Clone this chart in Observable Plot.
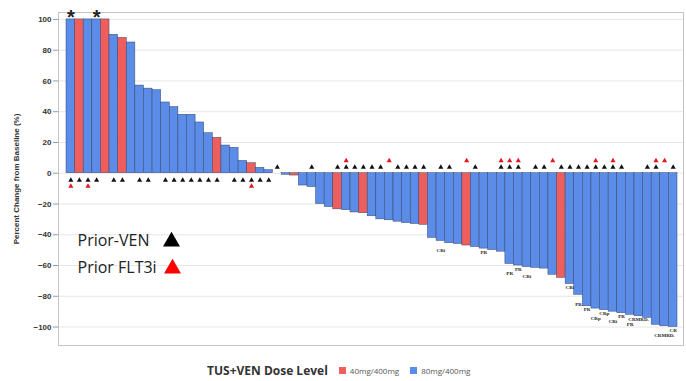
<!DOCTYPE html>
<html><head><meta charset="utf-8">
<script src="https://cdn.jsdelivr.net/npm/d3@7"></script>
<script src="https://cdn.jsdelivr.net/npm/@observablehq/plot@0.6"></script>
<style>
body{margin:0;background:#fff;}
#wrap{position:relative;width:686px;height:381px;overflow:hidden;background:#fff;}
#chart{position:absolute;left:0;top:0;}
#legend{position:absolute;left:207px;top:361px;height:18px;display:flex;align-items:center;font-family:"Open Sans",sans-serif;white-space:nowrap;}
#legend .title{font-weight:bold;font-size:12px;color:#333;}
#legend .sw{width:7px;height:7px;display:inline-block;margin-left:11px;}
#legend .lab{font-size:8px;color:#555;margin-left:4px;}
</style></head><body>
<div id="wrap"><div id="chart"></div>
<div id="legend"><span class="title">TUS+VEN Dose Level</span><span class="sw" style="background:#EE5E5C"></span><span class="lab">40mg/400mg</span><span class="sw" style="background:#5B8DE8"></span><span class="lab">80mg/400mg</span></div>
</div>
<script>
// percent change from baseline per patient (sorted waterfall)
const values = [100,100,100,100,100,90,88,85,57,55,54,46,43,38,38,33,26,23,18,16.5,8,6.5,3.5,2,0,-1,-1.5,-8,-9,-20,-22,-23.5,-24,-25.5,-26,-28,-30,-30.6,-31.5,-32.4,-33,-33.5,-42,-44,-45.5,-46,-47,-48,-49,-50,-51,-59,-60,-61,-61.5,-62,-66,-68,-72,-79,-86.5,-88,-89,-90,-91,-92,-93,-94,-98.5,-99.5,-100];
// dose level per bar: "40" = 40mg/400mg, "80" = 80mg/400mg
const dose = ["80","40","80","80","40","80","40","80","80","80","80","80","80","80","80","80","80","40","80","80","80","40","80","80","80","80","40","80","80","80","80","40","80","80","40","80","80","80","80","80","80","40","80","80","80","80","40","80","80","80","80","80","80","80","80","80","80","40","80","80","80","80","80","80","80","80","80","80","80","80","80"];
// patients with prior venetoclax / prior FLT3 inhibitor (bar indices)
const priorVEN = [0,1,2,3,5,6,8,9,11,12,13,14,15,16,17,19,20,21,22,23,24,28,31,32,33,34,35,36,38,39,40,41,43,44,47,50,51,52,54,55,57,58,59,60,61,62,63,64,67,68,70];
const priorFLT3i = [0,2,21,32,37,46,50,51,52,56,61,63,68,69];
// best response labels
const responseIdx = [43,48,51,52,53,58,59,60,61,62,63,64,65,66,69,70];
const responseLab = ["CRi","PR","PR","PR","CRi","CRi","PR","PR","CRp","CRp","CRi","PR","PR","CRMRD-","CRMRD-","CR"];
const starIdx = [0,3];
const yTicks = [-100,-80,-60,-40,-20,0,20,40,60,80,100];
const doseLabels = ["40mg/400mg","80mg/400mg"];

const data = values.map((v,i)=>({
  i, v,
  dose: dose[i]==="40" ? doseLabels[0] : doseLabels[1],
  ven: priorVEN.includes(i),
  flt: priorFLT3i.includes(i),
  resp: responseIdx.includes(i) ? responseLab[responseIdx.indexOf(i)] : "",
  star: starIdx.includes(i)
}));

const tri = (arr, cond, dy, fill) => Plot.dot(arr.filter(cond), {x:"i", y:d=>0, dy, symbol:"triangle", r:1.9, fill, stroke:"none"});
const respText = (cond, dy) => Plot.text(data.filter(d=>d.resp && cond(d)),{x:"i", y:"v", text:"resp", lineAnchor:"top", dy, fontSize:5, fontFamily:"Liberation Serif", fontWeight:"bold", fill:"#222"});

const chart = Plot.plot({
  width:686, height:352,
  marginTop:12, marginBottom:7, marginLeft:58, marginRight:3,
  x:{type:"band", domain:d3.range(values.length), padding:0, insetLeft:8, insetRight:6, axis:null},
  y:{domain:[-112,104.5]},
  color:{domain:doseLabels, range:["#EE5E5C","#5B8DE8"]},
  style:{fontFamily:"Liberation Sans, Arial, sans-serif", background:"#fff", color:"#333"},
  marks:[
    Plot.gridY(yTicks,{stroke:"#e6e6e6", strokeOpacity:1}),
    Plot.barY(data,{x:"i", y:"v", fill:"dose", stroke:"#34456f", strokeWidth:0.5}),
    Plot.frame({stroke:"#c4c4c4"}),
    Plot.axisY(yTicks,{tickSize:5, tickPadding:2, fontWeight:"bold", fontSize:8, stroke:"#999",
      label:"Percent Change from Baseline (%)", labelAnchor:"center", labelArrow:"none", labelOffset:45}),
    tri(data, d=>d.ven && d.v>0, 7, "#111"),
    tri(data, d=>d.flt && d.v>0, 13, "#e8151b"),
    tri(data, d=>d.ven && d.v<=0, -6, "#111"),
    tri(data, d=>d.flt && d.v<=0, -12.5, "#e8151b"),
    Plot.text(data.filter(d=>d.star),{x:"i", y:"v", text:()=>"*", fontSize:20, fontWeight:"bold", dy:-2, lineAnchor:"middle", fill:"#222"}),
    respText(d=>d.i%2===0, 1.5),
    respText(d=>d.i%2===1, 7.5),
    Plot.text(["Prior-VEN"],{frameAnchor:"top-left", dx:19, dy:228, textAnchor:"start", lineAnchor:"middle", fontSize:16, fontFamily:"Open Sans", fill:"#222"}),
    Plot.text(["Prior FLT3i"],{frameAnchor:"top-left", dx:19, dy:255, textAnchor:"start", lineAnchor:"middle", fontSize:16, fontFamily:"Open Sans", fill:"#222"}),
    Plot.dot([0],{frameAnchor:"top-left", dx:113, dy:229, symbol:"triangle", r:6.3, fill:"#000"}),
    Plot.dot([0],{frameAnchor:"top-left", dx:114, dy:256, symbol:"triangle", r:6.3, fill:"#f00"})
  ]
});
document.getElementById("chart").appendChild(chart);
</script>
</body></html>
